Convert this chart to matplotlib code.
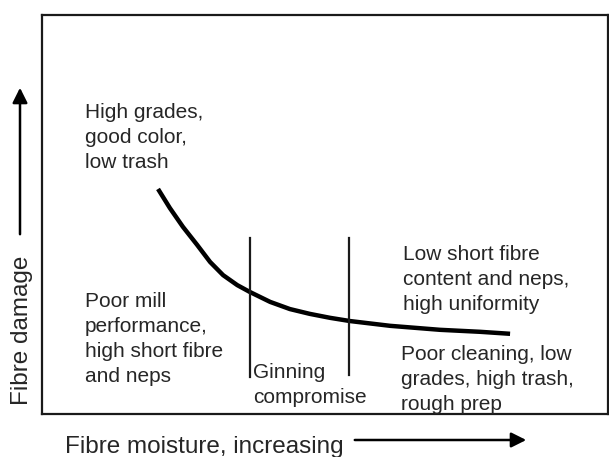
import numpy as np
import matplotlib
matplotlib.use("Agg")
import matplotlib.pyplot as plt
from matplotlib.patches import FancyArrowPatch

plt.rcParams['font.family'] = ['Liberation Sans', 'DejaVu Sans']

# fibre damage against moisture (arbitrary units, 0-100)
moisture = [20.5, 22.6, 24.9, 27.4, 29.7, 32.0, 34.5, 36.7, 40.3, 43.8,
            47.3, 50.9, 54.4, 61.5, 70.3, 77.4, 82.7]
damage = [56.4, 51.6, 46.9, 42.4, 38.1, 34.8, 32.3, 30.6, 28.1, 26.3,
          25.1, 24.1, 23.3, 22.1, 21.1, 20.6, 20.1]

# edges of the ginning compromise zone
zone_x = [36.7, 54.2]
zone_top = [44.1, 44.1]
zone_bottom = [9.3, 9.8]

# (text, left, baseline of last line)
notes = [
    ("High grades,\ngood color,\nlow trash", 7.6, 61.7),
    ("Poor mill\nperformance,\nhigh short fibre\nand neps", 7.6, 8.0),
    ("Ginning\ncompromise", 37.3, 2.8),
    ("Low short fibre\ncontent and neps,\nhigh uniformity", 63.8, 26.1),
    ("Poor cleaning, low\ngrades, high trash,\nrough prep", 63.4, 1.0),
]

W, H = 609, 457
fig = plt.figure(figsize=(W / 100, H / 100), dpi=100)
ax = fig.add_axes([42 / W, (H - 414) / H, 566 / W, 399 / H])
ax.set_xlim(0, 100)
ax.set_ylim(0, 100)
ax.set_xticks([])
ax.set_yticks([])
for s in ax.spines.values():
    s.set_linewidth(1.6)
    s.set_color('#1a1a1a')

ax.plot(moisture, damage, color='black', lw=3.2, solid_capstyle='butt',
        solid_joinstyle='round')
for x, t, b in zip(zone_x, zone_top, zone_bottom):
    ax.plot([x, x], [b, t], color='#1a1a1a', lw=1.6)

for txt, x, y in notes:
    ax.text(x, y, txt, fontsize=15, color='#262626', ha='left', va='baseline',
            linespacing=1.4)

# axis labels with arrows
fig.text(65 / W, 1 - 453 / H, "Fibre moisture, increasing", fontsize=17.5,
         color='#262626', ha='left', va='baseline')
fig.text(22 / W, 1 - 330 / H, "Fibre damage", fontsize=17.5, color='#262626',
         rotation=90, ha='center', va='center')
for start, end in [((352, 440), (529, 440)), ((20, 237), (20, 85))]:
    fig.add_artist(FancyArrowPatch(
        (start[0] / W, 1 - start[1] / H), (end[0] / W, 1 - end[1] / H),
        transform=fig.transFigure, arrowstyle='-|>,head_length=9,head_width=4.5',
        color='black', lw=1.8, mutation_scale=1))

fig.savefig("out.png", dpi=100)
